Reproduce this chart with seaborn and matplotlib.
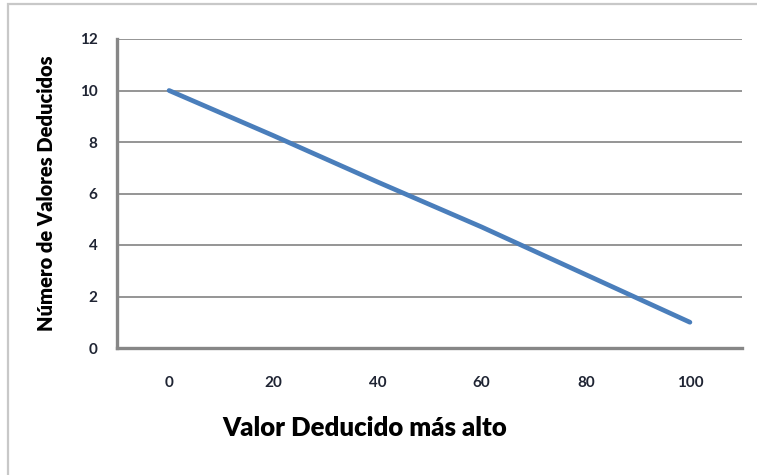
import matplotlib
matplotlib.use("Agg")
import matplotlib.pyplot as plt
from matplotlib.patches import Rectangle
import pandas as pd
import seaborn as sns

# Highest deduct value (category axis) and number of allowed deduct values
valor_deducido = ["0", "20", "40", "60", "80", "100"]
numero_valores = [10.0, 8.25, 6.45, 4.7, 2.85, 1.0]
y_ticks = [0, 2, 4, 6, 8, 10, 12]

titulo_x = "Valor Deducido más alto"
titulo_y = "Número de Valores Deducidos"

sns.set_theme(style="white")
plt.rcParams["font.family"] = ["Lato", "DejaVu Sans"]

df = pd.DataFrame({"hdv": valor_deducido, "m": numero_valores})

W, H = 757, 475
fig = plt.figure(figsize=(W / 100, H / 100), dpi=100)
fig.patch.set_facecolor("white")

# light outer chart frame (left and top edges visible)
fig.patches.append(Rectangle((8 / W, -0.1), 1.2, 1 - 4 / H + 0.1,
                             transform=fig.transFigure, fill=False,
                             edgecolor="#c8c8c8", linewidth=1.6, zorder=0))

ax = fig.add_axes([117 / W, 1 - 348 / H, (742 - 117) / W, (348 - 39) / H])

sns.lineplot(data=df, x="hdv", y="m", ax=ax, color="#4a7ebb",
             linewidth=3.4, sort=False, zorder=3)

ax.set_xlim(-0.5, len(valor_deducido) - 0.5)
ax.set_ylim(0, 12)
ax.set_yticks(y_ticks)
ax.set_yticklabels([str(t) for t in y_ticks])

ax.grid(axis="y", color="#8c8c8c", linewidth=1.3)
ax.grid(axis="x", visible=False)
ax.set_axisbelow(True)

for side in ["top", "right"]:
    ax.spines[side].set_visible(False)
for side in ["left", "bottom"]:
    ax.spines[side].set_visible(True)
    ax.spines[side].set_color("#878787")
    ax.spines[side].set_linewidth(2.4)

ax.tick_params(axis="both", length=0, labelsize=11, labelcolor="#1f2433")
ax.tick_params(axis="y", pad=14)
ax.tick_params(axis="x", pad=20)
for lab in ax.get_xticklabels() + ax.get_yticklabels():
    lab.set_fontweight("bold")

ax.set_xlabel(titulo_x, fontsize=18.5, fontweight="heavy", color="black")
ax.xaxis.label.set_va("center")
ax.xaxis.set_label_coords((365 - 117) / 625, -(428 - 348) / 309)

ax.set_ylabel(titulo_y, fontsize=14.5, fontweight="heavy", color="black")
ax.yaxis.label.set_va("center")
ax.yaxis.set_label_coords((47 - 117) / 625, (348 - 193.5) / 309)

fig.savefig("out.png", dpi=100, facecolor="white")
